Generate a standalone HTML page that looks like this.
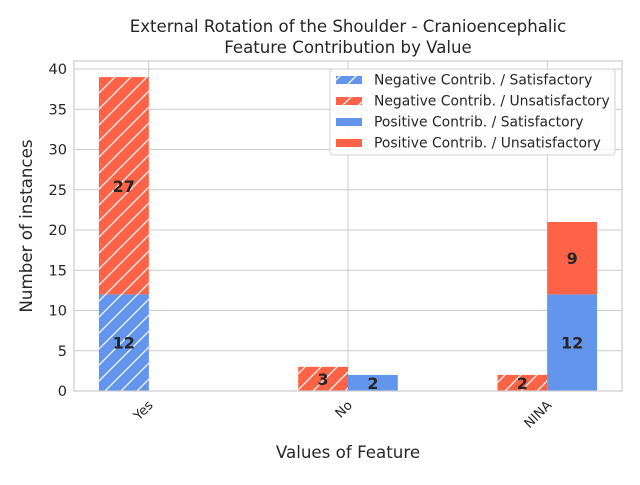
<!DOCTYPE html>
<html><head><meta charset="utf-8"><style>
body{margin:0;background:#fff;}
svg text{font-family:"DejaVu Sans","Liberation Sans",sans-serif;fill:#262626;}
</style></head><body>
<svg id="chart" width="640" height="480" xmlns="http://www.w3.org/2000/svg">
<defs>
<pattern id="hatch" patternUnits="userSpaceOnUse" width="16" height="16">
<path d="M-4,4 L4,-4 M0,16 L16,0 M12,20 L20,12" stroke="#fff" stroke-width="1.2"/>
</pattern>
</defs>
<rect x="0" y="0" width="640" height="480" fill="#fff"/>
<g id="grid"></g>
<g id="bars"></g>
<g id="labels"></g>
<rect x="74" y="61" width="548" height="330" fill="none" stroke="#cccccc" stroke-width="1.2"/>
<text x="348" y="32" font-size="16.6" text-anchor="middle">External Rotation of the Shoulder - Cranioencephalic</text>
<text x="348" y="53" font-size="16.6" text-anchor="middle">Feature Contribution by Value</text>
<text x="348" y="458" font-size="16.7" text-anchor="middle">Values of Feature</text>
<text transform="translate(32,226) rotate(-90)" font-size="16.7" text-anchor="middle">Number of instances</text>
<g>
<rect x="330" y="69" width="285" height="86" rx="3" fill="#fff" fill-opacity="0.8" stroke="#d0d0d0"/>
<rect x="336" y="76" width="26" height="8" fill="#6495ED"/><rect x="336" y="76" width="26" height="8" fill="url(#hatch)"/>
<text x="374" y="84.5" font-size="13.9">Negative Contrib. / Satisfactory</text>
<rect x="336" y="97" width="26" height="8" fill="#FF6347"/><rect x="336" y="97" width="26" height="8" fill="url(#hatch)"/>
<text x="374" y="105.5" font-size="13.9">Negative Contrib. / Unsatisfactory</text>
<rect x="336" y="118" width="26" height="8" fill="#6495ED"/>
<text x="374" y="126.5" font-size="13.9">Positive Contrib. / Satisfactory</text>
<rect x="336" y="139" width="26" height="8" fill="#FF6347"/>
<text x="374" y="147.5" font-size="13.9">Positive Contrib. / Unsatisfactory</text>
</g>
</svg>
<script>
const categories = ["Yes","No","NINA"];
const negSat = [12,0,0];
const negUnsat = [27,3,2];
const posSat = [0,2,12];
const posUnsat = [0,0,9];
const yTicks = [0,5,10,15,20,25,30,35,40];

const NS="http://www.w3.org/2000/svg";
const X0=74,X1=622,Y0=391,Y1=61;
const xMin=-0.375,xMax=2.375,yMin=0,yMax=41;
function xs(v){return X0+(v-xMin)/(xMax-xMin)*(X1-X0);}
function ys(v){return Y0-(v-yMin)/(yMax-yMin)*(Y0-Y1);}
function mk(tag,attrs,parent){const e=document.createElementNS(NS,tag);for(const k in attrs)e.setAttribute(k,attrs[k]);parent.appendChild(e);return e;}
const grid=document.getElementById('grid'),bars=document.getElementById('bars'),labels=document.getElementById('labels');
yTicks.forEach(t=>{
  const l=mk('line',{x1:X0,x2:X1,y1:ys(t),y2:ys(t),stroke:'#cccccc','stroke-width':1},grid);
  
  
  const tx=mk('text',{x:X0-7,y:ys(t)+5,'font-size':14.5,'text-anchor':'end'},grid);
  tx.textContent=t;
  
  
});
categories.forEach((c,i)=>{
  const l=mk('line',{x1:xs(i),x2:xs(i),y1:Y1,y2:Y0,stroke:'#cccccc','stroke-width':1},grid);
  
  
  const tx=mk('text',{transform:`translate(${xs(i)+5},${Y0+15}) rotate(-45)`,'font-size':13,'text-anchor':'end'},grid);
  tx.textContent=c;
  
  
});
const w=0.25;
function seg(cx,base,val,color,hatch,name){
  if(val<=0)return;
  const x=xs(cx),wpx=xs(cx+w)-xs(cx),y=ys(base+val),h=ys(base)-ys(base+val);
  const r=mk('rect',{x:x,y:y,width:wpx,height:h,fill:color},bars);
  
  
  if(hatch){const p=mk('rect',{x:x,y:y,width:wpx,height:h,fill:'url(#hatch)'},bars);
    
    }
  const t=mk('text',{x:x+wpx/2,y:ys(base+val/2)+6,'font-size':16,'font-weight':'bold','text-anchor':'middle'},labels);
  t.textContent=val;
  
  
}
categories.forEach((c,i)=>{
  seg(i-w,0,negSat[i],'#6495ED',true,'bar-neg-sat-'+c);
  seg(i-w,negSat[i],negUnsat[i],'#FF6347',true,'bar-neg-unsat-'+c);
  seg(i,0,posSat[i],'#6495ED',false,'bar-pos-sat-'+c);
  seg(i,posSat[i],posUnsat[i],'#FF6347',false,'bar-pos-unsat-'+c);
});
</script>
</body></html>
